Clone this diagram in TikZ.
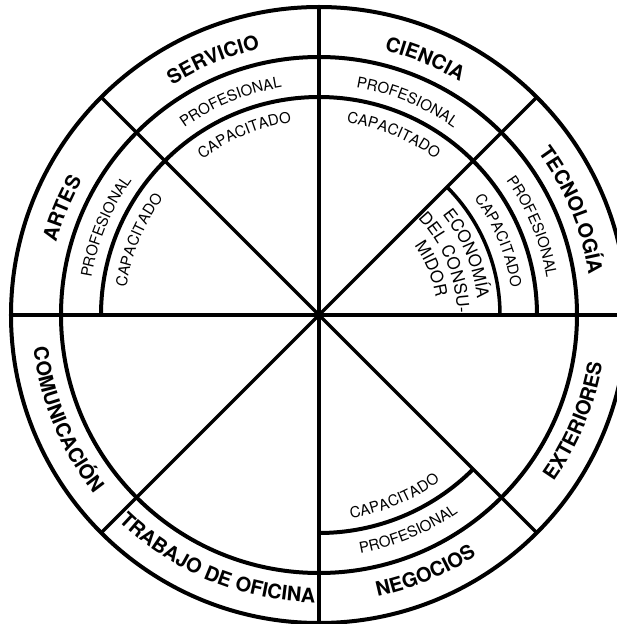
\documentclass[tikz,border=0pt]{standalone}
\usepackage{fontspec}
\setmainfont{TeX Gyre Heros}
\usetikzlibrary{decorations.text}

\newcommand{\areafont}{\fontsize{20}{24}\selectfont\bfseries}
\newcommand{\levelfont}{\fontsize{15}{18}\selectfont}
\newcommand{\econfont}{\fontsize{17}{20}\selectfont}
% text on a clockwise arc (upper half) and on a counter-clockwise arc (lower half)
\newcommand{\uplabel}[4]{\path[decorate,decoration={text along path,text align=center,text={|#3|#4}}]
  ({#1+45}:#2) arc[start angle={#1+45},end angle={#1-45},radius=#2];}
\newcommand{\lowlabel}[4]{\path[decorate,decoration={text along path,text align=center,text={|#3|#4}}]
  ({#1-45}:#2) arc[start angle={#1-45},end angle={#1+45},radius=#2];}

\begin{document}
\begin{tikzpicture}[x=1pt,y=1pt,line width=3.5pt]
  \useasboundingbox (-319,-309) rectangle (298,315);
  \coordinate (O) at (0,0);
  % rings
  \draw[line width=4pt] (O) circle[radius=308];
  \draw[line width=4pt] (O) circle[radius=258];
  \draw[line width=4pt] (0:218) arc[start angle=0,end angle=180,radius=218];
  \draw[line width=4pt] (-90:218) arc[start angle=-90,end angle=-45,radius=218];
  \draw (0:181) arc[start angle=0,end angle=45,radius=181];
  % spokes
  \foreach \a in {0,45,...,315}
    \draw (O) -- (\a:308);
  % areas
  \uplabel{157.5}{272.5}{\areafont}{ARTES}
  \uplabel{112.5}{272.5}{\areafont}{SERVICIO}
  \uplabel{67.5}{272.5}{\areafont}{CIENCIA}
  \uplabel{22.5}{272.5}{\areafont}{TECNOLOGÍA}
  \lowlabel{202.5}{287.5}{\areafont}{COMUNICACIÓN}
  \lowlabel{247.5}{287.5}{\areafont}{TRABAJO DE OFICINA}
  \lowlabel{292.5}{287.5}{\areafont}{NEGOCIOS}
  \lowlabel{337.5}{287.5}{\areafont}{EXTERIORES}
  % levels
  \uplabel{157.5}{230.5}{\levelfont}{PROFESIONAL}
  \uplabel{112.5}{230.5}{\levelfont}{PROFESIONAL}
  \uplabel{67.5}{230.5}{\levelfont}{PROFESIONAL}
  \uplabel{22.5}{230.5}{\levelfont}{PROFESIONAL}
  \uplabel{157.5}{194.5}{\levelfont}{CAPACITADO}
  \uplabel{112.5}{194.5}{\levelfont}{CAPACITADO}
  \uplabel{67.5}{194.5}{\levelfont}{CAPACITADO}
  \uplabel{22.5}{194}{\levelfont}{CAPACITADO}
  \lowlabel{292.5}{241.5}{\levelfont}{PROFESIONAL}
  \lowlabel{292.5}{205.5}{\levelfont}{CAPACITADO}
  % consumer economics
  \uplabel{22.5}{159}{\econfont}{ECONOMÍA}
  \uplabel{22.5}{138}{\econfont}{DEL CONSU-}
  \uplabel{22.5}{118}{\econfont}{MIDOR}
\end{tikzpicture}
\end{document}
